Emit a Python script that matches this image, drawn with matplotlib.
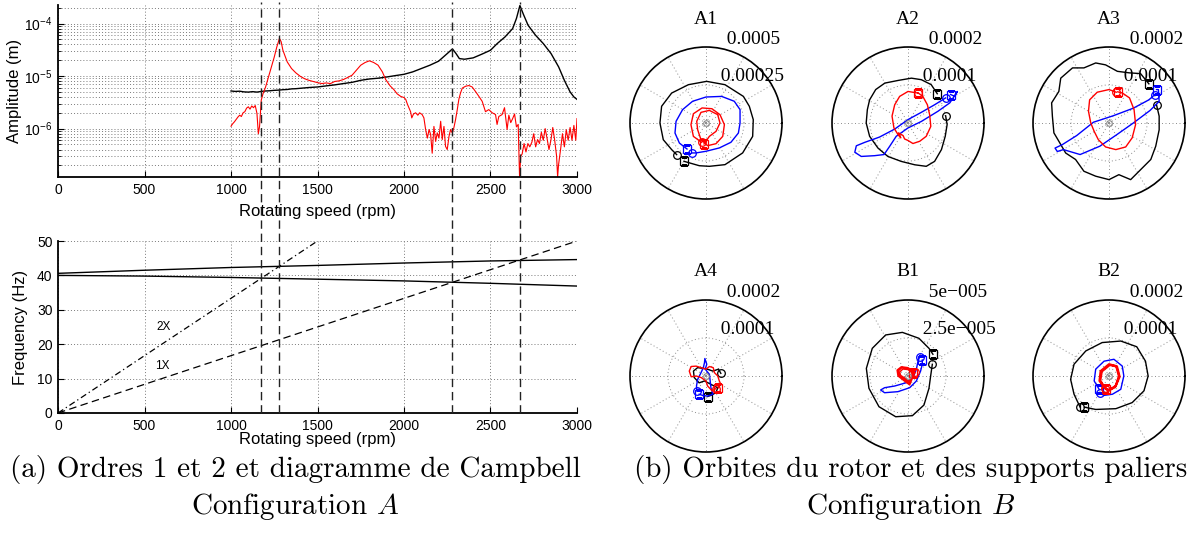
import numpy as np
import matplotlib
matplotlib.use("Agg")
import matplotlib.pyplot as plt
from matplotlib.lines import Line2D
from matplotlib.transforms import blended_transform_factory

# ---------------- data: amplitude vs speed (amplitudes in micrometres) ----------------
black_rpm = [1000, 1025, 1050, 1075, 1100, 1125, 1150, 1175, 1200, 1225, 1250, 1275, 1300, 1325,
             1350, 1375, 1400, 1450, 1500, 1550, 1600, 1650, 1700, 1750, 1800, 1850, 1900, 1950,
             2000, 2050, 2100, 2150, 2200, 2250, 2280, 2300, 2320, 2350, 2400, 2450, 2500, 2539,
             2584, 2628, 2650, 2670, 2690, 2717, 2760, 2805, 2850, 2894, 2927, 2960, 2982, 3000]
black_amp = [5.2, 5.1, 5.15, 5.0, 4.95, 5.05, 4.95, 5.1, 5.2, 5.25, 5.35, 5.4, 5.5, 5.55,
             5.7, 5.75, 5.85, 6.05, 6.2, 6.5, 6.8, 7.2, 7.6, 8.3, 8.8, 9.1, 9.6, 10.2,
             10.8, 12.0, 13.9, 16.1, 19.2, 26.8, 32.9, 27.0, 21.5, 20.9, 22.2, 26.1, 31.0, 41.6,
             55.6, 80.0, 125.0, 220.0, 150.0, 93.0, 60.0, 41.6, 26.8, 14.9, 8.3, 5.0, 4.0, 3.6]

red_rpm = [1000, 1010, 1020, 1030, 1040, 1050, 1060, 1070, 1080, 1090, 1100, 1110, 1120, 1130,
           1140, 1150, 1158, 1165, 1175, 1185, 1200, 1225, 1250, 1265, 1280, 1290, 1300, 1325,
           1350, 1375, 1400, 1425, 1450, 1475, 1500, 1525, 1550, 1575, 1600, 1625, 1650, 1675,
           1700, 1725, 1750, 1775, 1800, 1825, 1850, 1875, 1894, 1920, 1942, 1960, 1981, 2000,
           2010, 2020, 2038, 2045, 2055, 2067, 2080, 2090, 2105, 2115, 2125, 2135, 2145, 2154,
           2163, 2173, 2183, 2192, 2202, 2212, 2221, 2231, 2240, 2250, 2260, 2269, 2279, 2288,
           2298, 2308, 2317, 2327, 2337, 2356, 2375, 2394, 2413, 2433, 2452, 2471, 2490, 2510,
           2529, 2538, 2548, 2567, 2581, 2596, 2606, 2617, 2628, 2639, 2650, 2660, 2668, 2675,
           2683, 2694, 2705, 2716, 2727, 2739, 2750, 2761, 2772, 2783, 2794, 2805, 2816, 2827,
           2838, 2849, 2860, 2871, 2882, 2888, 2893, 2905, 2916, 2927, 2938, 2949, 2960, 2971,
           2982, 2993, 3000]
red_amp = [1.11, 1.24, 1.35, 1.50, 1.66, 1.80, 1.70, 2.00, 2.10, 2.45, 2.60, 2.35, 2.70, 2.50,
           2.75, 1.95, 0.80, 1.10, 3.50, 4.60, 6.20, 12.0, 23.0, 36.0, 52.0, 45.0, 31.0, 18.6,
           13.9, 11.5, 9.9, 8.9, 8.3, 7.9, 7.5, 7.2, 7.4, 7.2, 7.9, 8.1, 8.6, 9.4,
           10.4, 12.9, 16.1, 18.1, 19.5, 18.1, 16.1, 12.0, 8.6, 6.5, 5.5, 4.6, 4.1, 3.9,
           3.6, 2.9, 2.1, 1.6, 1.9, 2.0, 1.8, 2.0, 1.85, 1.6, 0.96, 0.66, 0.96, 0.77,
           0.34, 1.10, 0.57, 0.83, 0.66, 1.38, 0.62, 1.10, 0.46, 0.40, 0.71, 0.96, 0.83, 1.03,
           1.48, 2.30, 3.60, 4.80, 5.90, 6.40, 6.60, 6.20, 5.10, 4.10, 3.30, 2.10, 2.30, 2.00,
           1.85, 1.20, 1.70, 1.85, 2.50, 0.96, 1.80, 1.30, 1.55, 1.90, 1.08, 1.20, 0.12, 0.30,
           0.33, 0.52, 0.36, 0.52, 0.45, 0.55, 0.80, 0.45, 0.62, 0.52, 0.85, 0.60, 1.00, 0.65,
           0.40, 0.60, 1.05, 0.60, 0.30, 0.12, 0.20, 0.40, 0.80, 0.45, 0.95, 0.60, 1.05, 0.60,
           1.15, 0.60, 1.55]

critical_rpm = [1175, 1280, 2280, 2670]

# ---------------- data: Campbell diagram ----------------
mode_rpm = [0, 500, 1000, 1500, 2000, 2500, 3000]
mode_upper_hz = [40.6, 41.5, 42.3, 42.9, 43.6, 44.2, 44.6]
mode_lower_hz = [40.0, 39.8, 39.4, 38.9, 38.4, 37.7, 36.9]
order1_rpm = [0, 3000]
order1_hz = [0, 50]
order2_rpm = [0, 1500]
order2_hz = [0, 50]

# ---------------- data: orbits (x, y in micrometres; first point = circle, last = square) ----------------
A1_black = [(-193, -208), (-226, -175), (-281, -110), (-303, 0), (-292, 110), (-226, 197), (-116, 252),
            (4, 274), (125, 252), (246, 175), (285, 110), (311, 22), (307, -88), (241, -197),
            (125, -274), (22, -285), (-44, -281), (-145, -252)]
A1_blue = [(-94, -197), (-66, -197), (0, -186), (88, -164), (164, -127), (213, -66), (224, 0), (224, 88),
           (186, 143), (103, 175), (0, 171), (-88, 143), (-154, 88), (-197, 11), (-204, -66),
           (-175, -132), (-125, -171)]
A1_red = [(-29, -127), (-83, -88), (-99, -11), (-83, 61), (-26, 99), (39, 94), (92, 55), (121, -11),
          (110, -88), (66, -136), (11, -149), (-33, -110), (-55, -44), (-61, 11), (-33, 70), (22, 83),
          (77, 55), (92, 0), (66, -55), (22, -88), (-13, -138)]

A2_black = [(99, 19), (103, -4), (98, -35), (88, -70), (70, -101), (48, -114), (18, -110), (-18, -101),
            (-53, -88), (-79, -66), (-101, -35), (-110, 0), (-107, 35), (-101, 61), (-85, 88),
            (-61, 105), (-26, 112), (9, 118), (35, 114), (61, 101), (77, 77)]
A2_blue = [(99, 66), (70, 48), (35, 28), (0, 9), (-35, -16), (-75, -37), (-114, -51), (-136, -60),
           (-140, -77), (-123, -88), (-88, -86), (-63, -83), (-48, -61), (-31, -35), (0, -13), (35, 4),
           (79, 31), (110, 53), (130, 83), (123, 70), (112, 75)]
A2_red = [(25, 79), (0, 83), (-22, 70), (-35, 48), (-42, 18), (-37, -13), (-26, -31), (-19, -39),
          (-25, -26), (-13, -33), (-9, -42), (0, -46), (13, -54), (31, -48), (48, -35), (60, -9),
          (57, 22), (51, 48), (39, 70), (27, 79)]

A3_black = [(125, 48), (132, 18), (132, -18), (123, -61), (110, -96), (83, -123), (57, -149), (26, -136),
            (0, -149), (-35, -140), (-66, -127), (-88, -96), (-114, -79), (-132, -48), (-145, -26),
            (-149, 18), (-151, 53), (-132, 83), (-127, 118), (-96, 145), (-66, 145), (-35, 158),
            (-9, 153), (22, 136), (53, 132), (83, 130), (105, 103)]
A3_blue = [(121, 75), (105, 61), (64, 39), (11, 19), (-41, 2), (-85, -33), (-123, -57), (-142, -66),
           (-136, -75), (-120, -70), (-76, -83), (-24, -61), (20, -31), (64, 0), (108, 33), (132, 57),
           (130, 88), (125, 88)]
A3_red = [(19, 81), (0, 88), (-31, 81), (-51, 61), (-54, 31), (-48, 0), (-39, -22), (-28, -44),
          (-9, -63), (18, -70), (44, -63), (61, -39), (70, -4), (66, 35), (54, 66), (35, 79), (23, 82)]

A4_black = [(39, 7), (33, 18), (18, 13), (0, 19), (-22, 22), (-33, 13), (-31, -4), (-18, -18), (-4, -13),
            (13, -22), (31, -31), (26, -44), (13, -51), (4, -54)]
A4_blue = [(-24, -39), (-25, -26), (-22, -9), (-13, 9), (-7, 22), (-4, 35), (-3, 46), (2, 31), (-2, 18),
           (9, 4), (11, -13), (13, -31), (18, -48), (4, -53), (-9, -51), (-18, -48)]
A4_red = [(26, -33), (16, -39), (4, -26), (0, -13), (-13, -4), (-26, 0), (-39, -2), (-44, 13), (-39, 25),
          (-26, 26), (-13, 22), (0, 18), (9, 25), (19, 22), (22, 9), (31, 0), (35, -13), (39, -22),
          (32, -31)]

B1_black = [(16.0, 7.7), (14.9, 0.0), (13.8, -8.1), (10.5, -19.1), (2.9, -26.1), (-8.1, -26.8),
            (-19.1, -20.2), (-25.7, -8.1), (-27.4, 5.0), (-23.5, 18.2), (-14.7, 27.0), (-3.7, 28.7),
            (7.2, 24.8), (13.8, 18.2), (16.4, 14.3)]
B1_blue = [(7.7, 12.7), (6.6, 9.9), (5.5, 4.4), (3.3, -1.1), (-1.1, -4.4), (-8.8, -6.6), (-15.4, -7.7),
           (-18.0, -9.2), (-15.4, -11.0), (-6.6, -10.3), (1.1, -7.7), (5.5, -3.3), (8.3, 3.3),
           (9.4, 7.7), (9.4, 10.5)]
B1_red = [(4.6, 2.4), (0.0, 5.5), (-4.4, 6.1), (-7.2, 3.9), (-6.6, 0.0), (-3.3, -2.6), (1.1, -5.9),
          (2.6, -2.2), (4.6, 2.4), (3.9, 2.2), (0.0, 4.8), (-3.9, 5.5), (-6.4, 3.3), (-5.7, 0.2),
          (-2.6, -2.0), (0.9, -4.8), (2.2, -1.8), (3.9, 2.2), (3.3, 1.8), (0.0, 4.2), (-3.3, 4.6),
          (-5.5, 2.6), (-4.8, 0.4), (-2.2, -1.3), (0.7, -3.7), (1.8, -1.3), (3.3, 1.8)]

B2_black = [(-76, -82), (-92, -48), (-101, -9), (-92, 31), (-61, 66), (-18, 88), (31, 92), (73, 77),
            (96, 39), (103, 0), (92, -39), (61, -70), (18, -86), (-35, -88), (-65, -82)]
B2_blue = [(-24, -46), (-13, -51), (9, -48), (31, -35), (39, 0), (35, 26), (13, 44), (-13, 39),
           (-35, 18), (-39, -13), (-26, -35)]
B2_red = [(-11, -31), (-25, -13), (-22, 13), (0, 31), (19, 26), (26, 0), (18, -26), (0, -37), (-11, -31),
          (-23, -12), (-19, 12), (2, 29), (21, 25), (28, -2), (16, -29), (-2, -39), (-9, -33)]

panel_titles = ["A1", "A2", "A3", "A4", "B1", "B2"]
panel_rmax = [500, 200, 200, 200, 50, 200]          # micrometres
panel_ring_labels = [("0.00025", "0.0005"), ("0.0001", "0.0002"), ("0.0001", "0.0002"),
                     ("0.0001", "0.0002"), ("2.5e\u2212005", "5e\u2212005"), ("0.0001", "0.0002")]
panel_orbits = [(A1_black, A1_blue, A1_red), (A2_black, A2_blue, A2_red), (A3_black, A3_blue, A3_red),
                (A4_black, A4_blue, A4_red), (B1_black, B1_blue, B1_red), (B2_black, B2_blue, B2_red)]

# ---------------- figure ----------------
plt.rcParams['font.family'] = ['Liberation Sans', 'DejaVu Sans']
plt.rcParams['mathtext.default'] = 'regular'

W, H = 1189, 542
fig = plt.figure(figsize=(W / 100, H / 100), dpi=100)
fig.patch.set_facecolor('white')


def box(l, t, r, b):
    return [l / W, 1 - b / H, (r - l) / W, (b - t) / H]


grid_kw = dict(color='#7a7a7a', linestyle=(0, (1, 2.2)), linewidth=0.7)


def style_cart(ax):
    for s in ['top', 'right']:
        ax.spines[s].set_visible(False)
    for s in ['left', 'bottom']:
        ax.spines[s].set_linewidth(1.3)
    ax.tick_params(which='major', direction='in', length=4, width=0.8, labelsize=10, pad=4)
    ax.tick_params(which='minor', direction='in', length=2, width=0.6)
    ax.set_facecolor('none')


# top-left: amplitudes
ax1 = fig.add_axes(box(58, 5, 577, 177))
style_cart(ax1)
ax1.semilogy(black_rpm, np.array(black_amp) * 1e-6, color='black', lw=1.0)
ax1.semilogy(red_rpm, np.array(red_amp) * 1e-6, color='red', lw=0.8)
ax1.set_xlim(0, 3000)
ax1.set_ylim(1.2e-7, 2.25e-4)
ax1.set_xticks(range(0, 3001, 500))
ax1.xaxis.set_minor_locator(matplotlib.ticker.NullLocator())
ax1.grid(True, which='major', **grid_kw)
ax1.grid(True, which='minor', axis='y', **grid_kw)
ax1.set_axisbelow(True)
ax1.set_ylabel('Amplitude (m)', fontsize=12)
ax1.set_xlabel('Rotating speed (rpm)', fontsize=12)
ax1.yaxis.set_label_coords(-0.07, 0.5)
ax1.xaxis.set_label_coords(0.5, -0.155)

# bottom-left: Campbell diagram
ax2 = fig.add_axes(box(58, 241, 577, 413))
style_cart(ax2)
ax2.plot(mode_rpm, mode_upper_hz, color='black', lw=1.0)
ax2.plot(mode_rpm, mode_lower_hz, color='black', lw=1.0)
ax2.plot(order1_rpm, order1_hz, color='black', lw=0.9, linestyle=(0, (6, 3.5)))
ax2.plot(order2_rpm, order2_hz, color='black', lw=0.9, linestyle=(0, (5, 2.5, 1, 2.5)))
ax2.set_xlim(0, 3000)
ax2.set_ylim(0, 50)
ax2.set_xticks(range(0, 3001, 500))
ax2.set_yticks(range(0, 51, 10))
ax2.grid(True, which='major', **grid_kw)
ax2.set_axisbelow(True)
ax2.set_ylabel('Frequency (Hz)', fontsize=12)
ax2.set_xlabel('Rotating speed (rpm)', fontsize=12)
ax2.yaxis.set_label_coords(-0.058, 0.5)
ax2.xaxis.set_label_coords(0.5, -0.11)
ax2.text(613, 24.9, '2X', fontsize=8.5, ha='center', va='center')
ax2.text(602, 13.7, '1X', fontsize=8.5, ha='center', va='center')

# vertical dashed lines through both plots at the critical speeds
trans = blended_transform_factory(ax2.transData, fig.transFigure)
y_bot = ax2.get_position().y0
y_top = ax1.get_position().y1 + 3 / H
for rpm in critical_rpm:
    fig.add_artist(Line2D([rpm, rpm], [y_bot, y_top], transform=trans, color='#222222',
                          lw=1.0, linestyle=(0, (6, 3.5))))

# right: orbit polar plots
centers = [(706, 123), (908, 123), (1109, 123), (706, 376), (908, 376), (1109, 376)]
R = 76
for (cx, cy), title, rmax, rl, orbits in zip(centers, panel_titles, panel_rmax,
                                               panel_ring_labels, panel_orbits):
    ax = fig.add_axes(box(cx - R, cy - R, cx + R, cy + R), projection='polar')
    ax.set_facecolor('none')
    ax.set_thetagrids(np.arange(0, 360, 30), labels=[''] * 12)
    ax.set_rgrids([rmax / 2, rmax], labels=['', ''])
    ax.grid(True, color='#8c8c8c', linestyle=(0, (1, 2.6)), linewidth=0.7)
    ax.spines['polar'].set_color('black')
    ax.spines['polar'].set_linewidth(1.2)
    ax.tick_params(length=0)
    for pts, col in zip(orbits, ['black', 'blue', 'red']):
        p = np.array(pts, float)
        th = np.arctan2(p[:, 1], p[:, 0])
        r = np.hypot(p[:, 0], p[:, 1])
        lw = 1.6 if (title == 'B2' and col == 'red') else 1.0
        ax.plot(th, r, color=col, lw=lw)
        ax.plot(th[:1], r[:1], 'o', mfc='none', mec=col, ms=5.5, mew=0.9)
        ax.plot(th[-1:], r[-1:], 's', mfc='none', mec=col, ms=5.5, mew=0.9)
    ax.plot([0], [0], 'o', mfc='none', mec='#888888', ms=4, mew=0.8)
    ax.set_ylim(0, rmax)
    for frac, lab in zip([0.5, 1.0], rl):
        ax.text(np.deg2rad(82), frac * rmax, '  ' + lab, ha='left', va='bottom',
                fontsize=14, family='Liberation Serif', clip_on=False)
    ax.text(0.5, 0.5 + 104 / (2 * R), title, transform=ax.transAxes, ha='center', va='center',
            fontsize=14, family='Liberation Serif')

# captions
cap_kw = dict(ha='center', va='center', fontsize=21, family='cmr10', math_fontfamily='cm')
fig.text(295 / W, 1 - 470 / H, '(a) Ordres 1 et 2 et diagramme de Campbell', **cap_kw)
fig.text(295 / W, 1 - 507 / H, r'Configuration $\mathit{A}$', **cap_kw)
fig.text(911 / W, 1 - 470 / H, '(b) Orbites du rotor et des supports paliers', **cap_kw)
fig.text(911 / W, 1 - 507 / H, r'Configuration $\mathit{B}$', **cap_kw)

fig.savefig('out.png', dpi=100)
